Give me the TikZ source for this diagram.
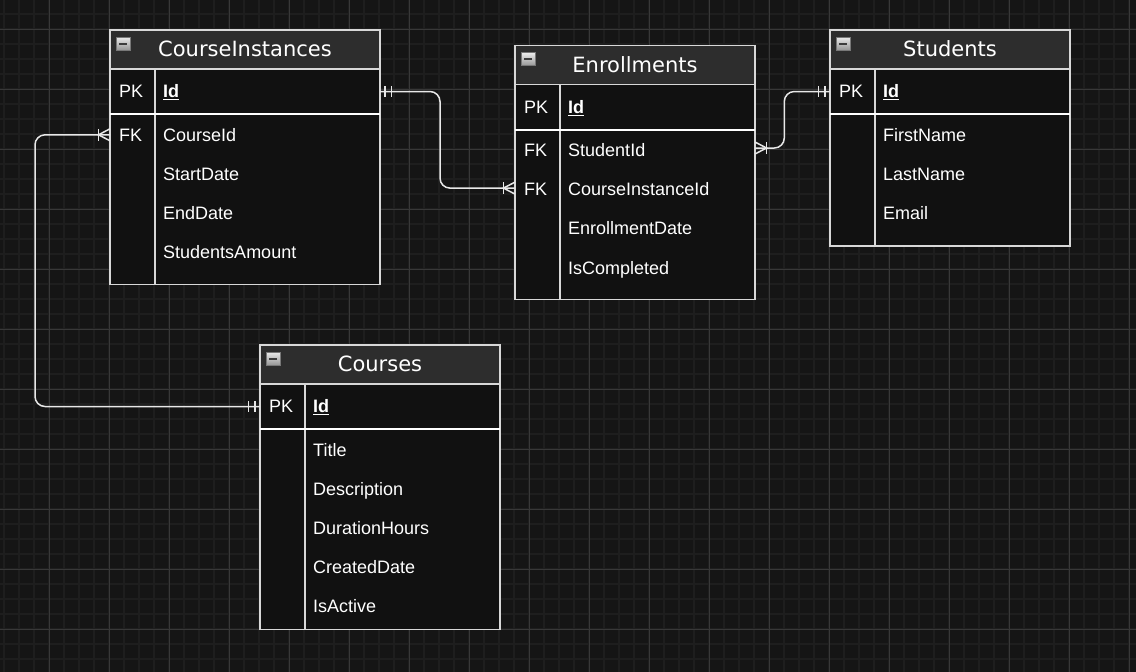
\documentclass[tikz,border=0pt]{standalone}
\usepackage{fontspec}
\setmainfont{Liberation Sans}
\newfontfamily\hfont{DejaVu Sans}
\usetikzlibrary{calc}
\definecolor{bgc}{HTML}{151515}
\definecolor{minorc}{HTML}{1E1E1E}
\definecolor{majorc}{HTML}{383838}
\definecolor{tablec}{HTML}{111111}
\definecolor{headc}{HTML}{2D2D2D}
\definecolor{borderc}{HTML}{D8D8D8}
\definecolor{connc}{HTML}{E8E8E8}
\tikzset{
  minorgrid/.style={draw=minorc, line width=1.6pt},
  majorgrid/.style={draw=majorc, line width=0.9pt},
  tframe/.style={draw=borderc, fill=tablec, line width=1.4pt, inner sep=0pt, outer sep=0pt, rectangle},
  borderline/.style={draw=borderc, line width=1.4pt},
  sepline/.style={draw=white, line width=2pt},
  htitle/.style={anchor=base, inner sep=0pt, text=white, font=\hfont\fontsize{21}{24}\selectfont},
  keytxt/.style={anchor=base west, inner sep=0pt, text=white, font=\fontsize{18}{20}\selectfont},
  fieldtxt/.style={anchor=base west, inner sep=0pt, text=white, font=\fontsize{18}{20}\selectfont},
  conn/.style={draw=connc, line width=1.5pt},
  iconbox/.style={draw={rgb,255:red,120;green,120;blue,120}, line width=0.8pt, top color={rgb,255:red,235;green,235;blue,235}, bottom color={rgb,255:red,150;green,150;blue,150}},
  iconminus/.style={draw={rgb,255:red,60;green,60;blue,60}, line width=2pt}
}
% name, x, y, width, height, title
\newcommand\ertable[6]{%
  \node[tframe, minimum width=#4pt, minimum height=#5pt, anchor=north west] (#1) at (#2,#3) {};
  \fill[headc] (#2,#3) rectangle ++(#4,39);
  \draw[borderline] (#1.north west) rectangle (#1.south east);
  \draw[borderline] ($(#2,#3)+(0,39)$) -- ++(#4,0);
  \draw[borderline] ($(#2,#3)+(45,39)$) -- ($(#2,#3)+(45,#5)$);
  \draw[sepline] ($(#2,#3)+(0,84)$) -- ++(#4,0);
  \draw[iconbox] ($(#2,#3)+(6,7)$) rectangle ++(14,13);
  \draw[iconminus] ($(#2,#3)+(9,13.5)$) -- ++(8,0);
  \node[htitle] (#1-title) at ($(#2,#3)+(#4/2,26.3)$) {#6};
}
\newcommand\mandone[2]{%
  \draw[conn] ($(#1)+(5*#2,-5.5)$) -- ++(0,11);
  \draw[conn] ($(#1)+(11.5*#2,-5.5)$) -- ++(0,11);
}
\newcommand\crowfoot[2]{%
  \draw[conn] ($(#1)+(0,-6)$) -- ($(#1)+(11.5*#2,0)$) -- ($(#1)+(0,6)$);
  \draw[conn] ($(#1)+(11.5*#2,-6)$) -- ++(0,12);
}
\begin{document}
\begin{tikzpicture}[x=1pt,y=-1pt]
\useasboundingbox (0,0) rectangle (1136,672);
\fill[bgc] (0,0) rectangle (1136,672);
% grid
\foreach \x in {4,19,...,1136} \draw[minorgrid] (\x,0) -- (\x,672);
\foreach \y in {14,29,...,672} \draw[minorgrid] (0,\y) -- (1136,\y);
\foreach \x in {49,109,...,1136} \draw[majorgrid] (\x,0) -- (\x,672);
\foreach \y in {29,89,...,672} \draw[majorgrid] (0,\y) -- (1136,\y);

% ---------------- CourseInstances
\ertable{ci}{110}{30}{270}{254.5}{CourseInstances}
\node[keytxt] (ci-pk) at (119,97.7) {PK};
\node[fieldtxt] (ci-id) at (163,97.7) {\underline{\textbf{Id}}};
\node[keytxt] (ci-k1) at (119,141) {FK};
\node[fieldtxt] (ci-f1) at (163,141) {CourseId};
\node[fieldtxt] (ci-f2) at (163,180.1) {StartDate};
\node[fieldtxt] (ci-f3) at (163,219.2) {EndDate};
\node[fieldtxt] (ci-f4) at (163,258.3) {StudentsAmount};

% ---------------- Enrollments
\ertable{en}{515}{45.7}{240}{253.8}{Enrollments}
\node[keytxt] (en-pk) at (524,113.4) {PK};
\node[fieldtxt] (en-id) at (568,113.4) {\underline{\textbf{Id}}};
\node[keytxt] (en-k1) at (524,156.7) {FK};
\node[fieldtxt] (en-f1) at (568,156.7) {StudentId};
\node[keytxt] (en-k2) at (524,195.8) {FK};
\node[fieldtxt] (en-f2) at (568,195.8) {CourseInstanceId};
\node[fieldtxt] (en-f3) at (568,234.9) {EnrollmentDate};
\node[fieldtxt] (en-f4) at (568,274) {IsCompleted};

% ---------------- Students
\ertable{st}{830}{30}{240}{216}{Students}
\node[keytxt] (st-pk) at (839,97.7) {PK};
\node[fieldtxt] (st-id) at (883,97.7) {\underline{\textbf{Id}}};
\node[fieldtxt] (st-f1) at (883,141) {FirstName};
\node[fieldtxt] (st-f2) at (883,180.1) {LastName};
\node[fieldtxt] (st-f3) at (883,219.2) {Email};

% ---------------- Courses
\ertable{co}{260}{345}{240}{284.5}{Courses}
\node[keytxt] (co-pk) at (269,412.7) {PK};
\node[fieldtxt] (co-id) at (313,412.7) {\underline{\textbf{Id}}};
\node[fieldtxt] (co-f1) at (313,456) {Title};
\node[fieldtxt] (co-f2) at (313,495.1) {Description};
\node[fieldtxt] (co-f3) at (313,534.2) {DurationHours};
\node[fieldtxt] (co-f4) at (313,573.3) {CreatedDate};
\node[fieldtxt] (co-f5) at (313,612.4) {IsActive};

% ---------------- connectors
\coordinate (a1) at (ci.east |- ci-pk);
\coordinate (a2) at ($(en.west |- en-k2)+(0,-1.5)$);
\draw[conn, rounded corners=10pt] (a1) -- ++(60,0) |- (a2);
\mandone{a1}{1}
\crowfoot{a2}{-1}

\coordinate (b1) at (st.west |- st-pk);
\coordinate (b2) at ($(en.east |- en-k1)+(0,-2.5)$);
\draw[conn, rounded corners=10pt] (b1) -- ++(-45.7,0) |- (b2);
\mandone{b1}{-1}
\crowfoot{b2}{1}

\coordinate (c1) at (co.west |- co-pk);
\coordinate (cbend) at (35,406);
\coordinate (c2) at (ci.west |- ci-k1);
\draw[conn, rounded corners=10pt] (c1) -- (cbend |- c1) |- (c2);
\mandone{c1}{-1}
\crowfoot{c2}{-1}
\end{tikzpicture}
\end{document}
